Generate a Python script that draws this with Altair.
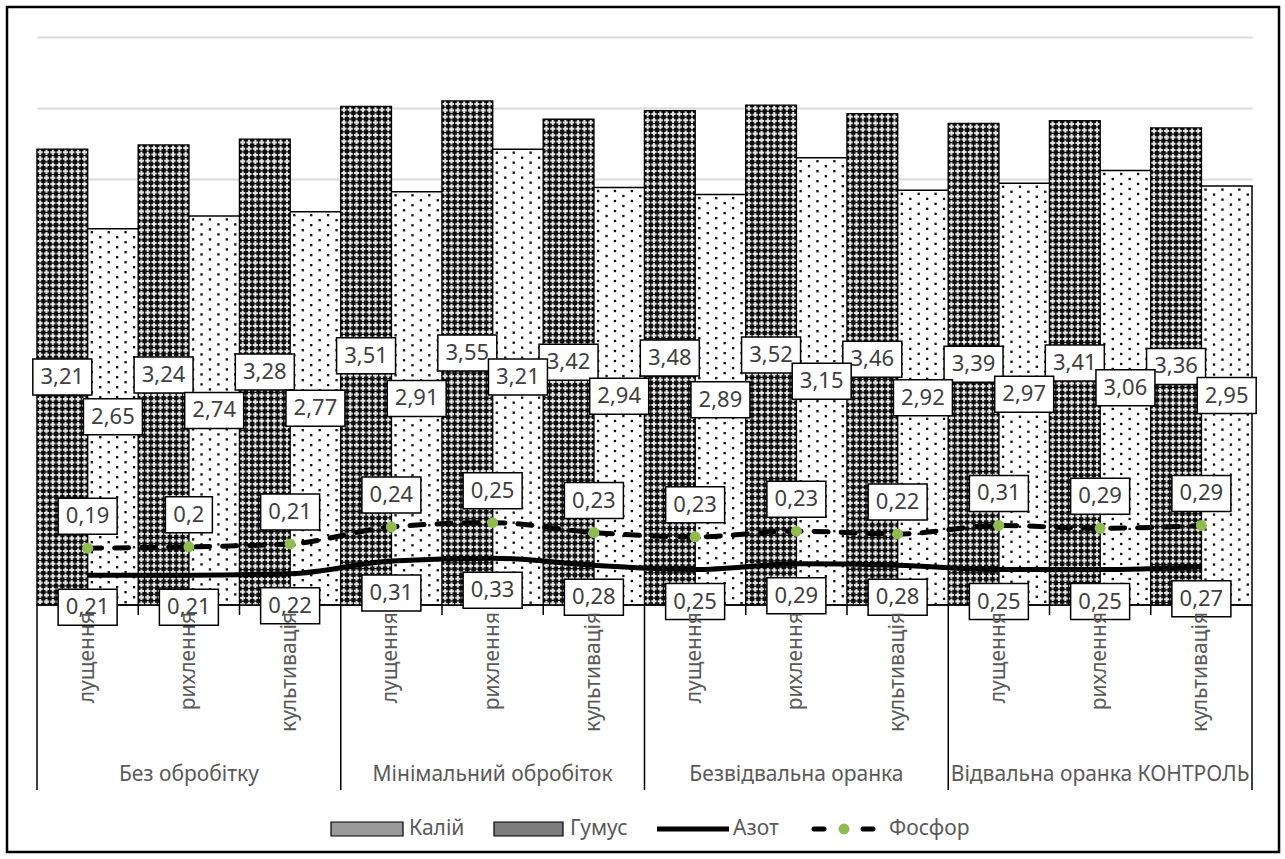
import altair as alt
import pandas as pd

# ---------------- data ----------------
groups = ["Без обробітку", "Мінімальний обробіток", "Безвідвальна оранка", "Відвальна оранка КОНТРОЛЬ"]
methods = ["лущення", "рихлення", "культивація"]
series = ["Калій", "Гумус", "Азот", "Фосфор"]

humus = [3.21, 3.24, 3.28, 3.51, 3.55, 3.42, 3.48, 3.52, 3.46, 3.39, 3.41, 3.36]
potassium = [2.65, 2.74, 2.77, 2.91, 3.21, 2.94, 2.89, 3.15, 2.92, 2.97, 3.06, 2.95]
nitrogen = [0.21, 0.21, 0.22, 0.31, 0.33, 0.28, 0.25, 0.29, 0.28, 0.25, 0.25, 0.27]
phosphorus = [0.19, 0.2, 0.21, 0.24, 0.25, 0.23, 0.23, 0.23, 0.22, 0.31, 0.29, 0.29]

# ---------------- layout / style ----------------
W, H = 1215, 568
Y_MAX = 4.0
N = len(humus)
PX_X = W / N          # pixels per category
PX_Y = H / Y_MAX      # pixels per unit of value
FONT = "Noto Sans"
TEXT_GREY = "#595959"
LABEL_GREY = "#404040"
FS = 21

df = pd.DataFrame({
    "i": list(range(N)),
    "group": [groups[i // 3] for i in range(N)],
    "method": [methods[i % 3] for i in range(N)],
    "humus": humus,
    "potassium": potassium,
    "nitrogen": nitrogen,
    "phosphorus": phosphorus,
})

# Fill textures, laid out from the top of each bar downwards:
# a cross-hatch grid for humus bars, staggered dots for potassium bars
hum_tex = []
step = 0.5 * PX_X / 8
for i, v in enumerate(humus):
    yc = v * PX_Y - step / 2
    while yc > -3:
        for k in range(8):
            hum_tex.append({"tx": i + (k + 0.5) * step / PX_X, "ty": yc / PX_Y})
        yc -= step
hum_tex = pd.DataFrame(hum_tex)

pot_tex = []
cw = 0.5 * PX_X / 3
rh = 5.0
for i, v in enumerate(potassium):
    yc = v * PX_Y - 3.5
    r = 0
    while yc > 1:
        shift = 0.25 if r % 2 == 0 else 0.75
        for k in range(3):
            pot_tex.append({"tx": i + 0.5 + (k + shift) * cw / PX_X, "ty": yc / PX_Y})
        yc -= rh
        r += 1
pot_tex = pd.DataFrame(pot_tex)

xs = alt.Scale(domain=[0, N], nice=False, zero=False)
ys = alt.Scale(domain=[0, Y_MAX], nice=False, zero=True)
yaxis = alt.Axis(values=[0.5 * k for k in range(1, 9)], grid=True, gridColor="#d9d9d9",
                 gridWidth=2, domain=False, ticks=False, labels=False, title=None)


def X(f):
    return alt.X(f, type="quantitative", scale=xs, axis=None)


def Y(f):
    return alt.Y(f, type="quantitative", scale=ys, axis=yaxis)


base = alt.Chart(df)

# ---------------- bars ----------------
hum_bar = base.transform_calculate(x0="datum.i", x1="datum.i + 0.5", z="0").mark_rect(
    fill="#0d0d0d", stroke="black", strokeWidth=1.5
).encode(x=X("x0"), x2="x1", y=Y("humus"), y2="z")

pot_bar = base.transform_calculate(x0="datum.i + 0.5", x1="datum.i + 1", z="0").mark_rect(
    fill="white", stroke="black", strokeWidth=1.5
).encode(x=X("x0"), x2="x1", y=Y("potassium"), y2="z")

hum_pat = alt.Chart(hum_tex).mark_point(
    shape="cross", filled=True, color="#e2e2e2", size=26, opacity=1, strokeWidth=0, clip=True
).encode(x=X("tx"), y=Y("ty"))

pot_pat = alt.Chart(pot_tex).mark_point(
    shape="square", filled=True, color="#111111", size=5.5, opacity=1, strokeWidth=0, clip=True
).encode(x=X("tx"), y=Y("ty"))

# ---------------- category axis ----------------
baseline = alt.Chart(pd.DataFrame({"a": [0], "b": [N]})).mark_rule(
    color="black", strokeWidth=1.5
).encode(x=X("a"), x2="b", y=alt.value(H))

sep_df = pd.DataFrame({"b": [3 * g for g in range(len(groups) + 1)]})
group_lines = alt.Chart(sep_df).mark_rule(color="black", strokeWidth=1.5).encode(
    x=X("b"), y=alt.value(H), y2=alt.value(753)
)

sub_ticks = base.transform_filter("datum.i % 3 != 0").mark_rule(
    color="black", strokeWidth=1.5
).encode(x=X("i"), y=alt.value(H), y2=alt.value(H + 10))

method_txt = base.transform_calculate(xc="datum.i + 0.5").mark_text(
    font=FONT, fontSize=FS, color=TEXT_GREY, angle=270, align="right", baseline="middle"
).encode(x=X("xc"), y=alt.value(H + 7), text="method:N")

grp_df = pd.DataFrame({"g": list(range(len(groups))), "group": groups})
group_txt = alt.Chart(grp_df).transform_calculate(xc="datum.g * 3 + 1.5").mark_text(
    font=FONT, fontSize=FS, color=TEXT_GREY, align="center", baseline="middle"
).encode(x=X("xc"), y=alt.value(738), text="group:N")

# ---------------- lines ----------------
line_src = base.transform_calculate(xc="datum.i + 0.5", np="datum.nitrogen + datum.phosphorus")

n_line = line_src.mark_line(color="black", strokeWidth=5, interpolate="monotone").encode(
    x=X("xc"), y=Y("nitrogen")
)
p_line = line_src.mark_line(
    color="black", strokeWidth=5, strokeDash=[14, 13], strokeCap="round", interpolate="monotone"
).encode(x=X("xc"), y=Y("np"))
p_pts = line_src.mark_circle(size=120, color="#8fbc4f", opacity=1).encode(x=X("xc"), y=Y("np"))

# ---------------- value labels ----------------
BOX_H = 36
W4, W3 = 59, 47


def box_path(w, h):
    a = h / w
    return f"M-1,{-a:.4f}L1,{-a:.4f}L1,{a:.4f}L-1,{a:.4f}Z"


def value_labels(xexpr, yexpr, vfield, dy):
    src = base.transform_calculate(
        lx=xexpr, ly=yexpr,
        label=f"replace(format(datum.{vfield}, '.2~f'), '.', ',')",
    )
    short = "length(datum.label) < 4"
    boxes = src.mark_point(
        filled=True, fill="white", stroke="black", strokeWidth=1.5, opacity=1, yOffset=dy
    ).encode(
        x=X("lx"), y=Y("ly"),
        shape=alt.condition(short, alt.value(box_path(W3, BOX_H)), alt.value(box_path(W4, BOX_H))),
        size=alt.condition(short, alt.value(W3 ** 2), alt.value(W4 ** 2)),
    )
    texts = src.mark_text(
        font=FONT, fontSize=22, color=LABEL_GREY, baseline="middle", align="center", yOffset=dy
    ).encode(x=X("lx"), y=Y("ly"), text="label:N")
    return [boxes, texts]


labels = (
    value_labels("datum.i + 0.25", "datum.humus / 2", "humus", 0)
    + value_labels("datum.i + 0.75", "datum.potassium / 2", "potassium", 0)
    + value_labels("datum.i + 0.5", "datum.nitrogen + datum.phosphorus", "phosphorus", -32)
    + value_labels("datum.i + 0.5", "datum.nitrogen", "nitrogen", 32)
)

# ---------------- legend ----------------
LEG_Y = 792


def leg_chart(k):
    return alt.Chart(pd.DataFrame({"name": [series[k]]}))


def leg_text(k, x):
    return leg_chart(k).mark_text(
        font=FONT, fontSize=FS, color=TEXT_GREY, align="left", baseline="middle"
    ).encode(x=alt.value(x), y=alt.value(LEG_Y), text="name:N")


legend = [
    leg_chart(0).mark_rect(fill="#9a9a9a", stroke="black", strokeWidth=1.2).encode(
        x=alt.value(294), x2=alt.value(366), y=alt.value(LEG_Y - 7), y2=alt.value(LEG_Y + 7)),
    leg_text(0, 372),
    leg_chart(1).mark_rect(fill="#7d7d7d", stroke="black", strokeWidth=1.2).encode(
        x=alt.value(457), x2=alt.value(526), y=alt.value(LEG_Y - 7), y2=alt.value(LEG_Y + 7)),
    leg_text(1, 533),
    leg_chart(2).mark_rule(color="black", strokeWidth=5).encode(
        x=alt.value(620), x2=alt.value(692), y=alt.value(LEG_Y)),
    leg_text(2, 696),
    leg_chart(3).mark_rule(color="black", strokeWidth=5, strokeCap="round").encode(
        x=alt.value(777), x2=alt.value(787), y=alt.value(LEG_Y)),
    leg_chart(3).mark_rule(color="black", strokeWidth=5, strokeCap="round").encode(
        x=alt.value(826), x2=alt.value(836), y=alt.value(LEG_Y)),
    leg_chart(3).mark_circle(size=120, color="#8fbc4f", opacity=1).encode(
        x=alt.value(807), y=alt.value(LEG_Y)),
    leg_text(3, 852),
]

# ---------------- outer frame ----------------
frame = alt.Chart(pd.DataFrame({"f": [0]})).mark_rect(
    fillOpacity=0, stroke="black", strokeWidth=2.5
).encode(x=alt.value(-30), x2=alt.value(1242), y=alt.value(-30), y2=alt.value(815))

chart = alt.layer(
    hum_bar, pot_bar, hum_pat, pot_pat,
    baseline, group_lines, sub_ticks,
    n_line, p_line, p_pts,
    *labels,
    method_txt, group_txt,
    *legend,
    frame,
).properties(
    width=W, height=H,
    padding={"left": 37, "top": 37, "right": 33, "bottom": 254},
    autosize=alt.AutoSizeParams(type="none"),
).configure(
    font=FONT, background="white"
).configure_view(strokeWidth=0)

chart.save("out.html", embed_options={"renderer": "svg", "actions": False})
